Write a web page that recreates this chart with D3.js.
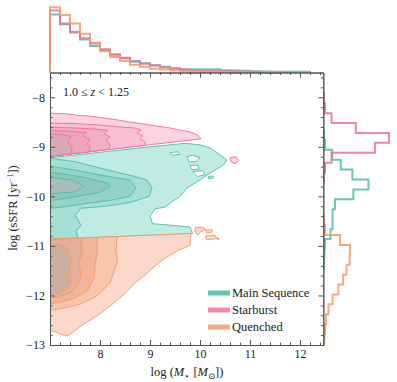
<!DOCTYPE html>
<html>
<head>
<meta charset="utf-8">
<script src="https://cdn.jsdelivr.net/npm/d3@7"></script>
<style>
  body { margin: 0; background: #fff; }
  svg text { font-family: "Liberation Serif", "DejaVu Serif", serif; fill: #222; }
  .axis path, .axis line { stroke: #555; }
</style>
</head>
<body>
<div id="chart_area"></div>
<script>
// ---- data ----
var classNames = ["Main Sequence", "Starburst", "Quenched"];
var lineColors = ["#4fbcab", "#f06d9c", "#f39a66"];
var legendColors = ["#63c6b8", "#f58ab0", "#f6ac83"];

// marginal histogram of log M* (bins of 0.2 dex from 7.0)
var massBinStart = 7.0, massBinWidth = 0.2;
var msMassHist = [0.90,0.75,0.62,0.51,0.41,0.35,0.28,0.22,0.165,0.14,0.114,0.088,0.067,0.052,0.052,0.052,0.05,0.036,0.031,0.026,0.021,0.016,0.01,0.01,0.01,0.01];
var sbMassHist = [0.96,0.76,0.63,0.53,0.45,0.36,0.28,0.23,0.18,0.14,0.11,0.078,0.057,0.041,0.031,0.026,0.026,0.021,0.016,0.016,0.01];
var qMassHist  = [1.01,0.89,0.76,0.60,0.46,0.33,0.24,0.18,0.12,0.09,0.06,0.047,0.031,0.02,0.012,0.01,0.008,0.006,0.005,0.004,0.003,0.002,0.001];

// marginal histogram of log sSFR (bins of 0.2 dex going down from the first edge)
var ssfrBinWidth = 0.2;
var msSsfrStart = -8.66;
var msSsfrHist = [0.02,0.05,0.26,0.51,0.85,1.32,0.88,0.34,0.27,0.27,0.21,0.05,0.03,0.02];
var sbSsfrStart = -7.92;
var sbSsfrHist = [0.02,0.05,0.24,0.95,1.92,1.51,0.24,0.05,0.02];
var qSsfrStart = -10.38;
var qSsfrHist  = [0.02,0.05,0.49,0.78,0.77,0.68,0.58,0.44,0.27,0.15,0.08,0.05,0.03];

// density contour levels [log M*, log sSFR], outermost first
var msLevels = [
  [[7.0,-9.22],[8.0,-9.11],[9.0,-9.0],[9.7,-8.93],[10.0,-8.96],[10.2,-9.02],[10.36,-9.13],[10.54,-9.27],[10.48,-9.35],[10.4,-9.41],[10.2,-9.53],[10.0,-9.67],[9.74,-9.83],[9.6,-10.0],[9.45,-10.1],[9.3,-10.22],[9.1,-10.25],[9.0,-10.4],[9.05,-10.55],[9.4,-10.58],[9.8,-10.62],[9.85,-10.75],[7.0,-10.87]],
  [[7.0,-9.23],[7.5,-9.3],[8.0,-9.43],[8.66,-9.59],[8.94,-9.67],[9.04,-9.83],[8.98,-10.0],[8.62,-10.12],[8.1,-10.2],[7.62,-10.24],[7.5,-10.38],[7.62,-10.58],[7.52,-10.7],[7.56,-10.84],[7.0,-10.86]],
  [[7.0,-9.39],[7.5,-9.47],[8.0,-9.57],[8.6,-9.67],[8.72,-9.83],[8.6,-10.0],[8.2,-10.08],[7.76,-10.14],[7.22,-10.22],[7.0,-10.24]],
  [[7.0,-9.51],[7.66,-9.61],[8.14,-9.73],[8.2,-9.81],[8.0,-9.92],[7.34,-10.04],[7.0,-10.08]],
  [[7.0,-9.61],[7.44,-9.67],[7.68,-9.79],[7.5,-9.91],[7.0,-9.95]]
];
var msHoles = [
  [[9.74,-9.2],[9.85,-9.17],[10.0,-9.22],[9.92,-9.3],[9.78,-9.3]],
  [[9.8,-9.38],[9.95,-9.37],[9.98,-9.45],[9.84,-9.46]],
  [[9.86,-9.5],[10.05,-9.48],[10.1,-9.56],[9.95,-9.6]],
  [[9.4,-9.12],[9.55,-9.1],[9.6,-9.15],[9.45,-9.17]]
];
var msIslands = [
  [[10.16,-9.6],[10.26,-9.59],[10.27,-9.63],[10.17,-9.64]]
];

var sbLevels = [
  [[7.0,-8.32],[7.3,-8.33],[7.6,-8.37],[7.8,-8.38],[8.0,-8.41],[8.3,-8.45],[8.6,-8.5],[9.0,-8.56],[9.4,-8.62],[9.6,-8.66],[9.8,-8.70],[9.95,-8.76],[10.02,-8.84],[7.0,-9.19]],
  [[7.0,-8.52],[7.5,-8.53],[8.0,-8.56],[8.4,-8.6],[8.7,-8.62],[8.82,-8.66],[8.74,-8.72],[8.86,-8.78],[8.8,-8.84],[8.9,-8.9],[8.9,-8.97],[7.0,-9.19]],
  [[7.0,-8.6],[7.5,-8.62],[7.9,-8.64],[8.15,-8.67],[8.08,-8.74],[8.2,-8.8],[8.12,-8.88],[8.2,-8.95],[8.18,-9.05],[7.0,-9.19]],
  [[7.0,-8.67],[7.4,-8.69],[7.72,-8.71],[7.66,-8.78],[7.8,-8.85],[7.74,-8.94],[7.8,-9.0],[7.78,-9.10],[7.0,-9.19]],
  [[7.0,-8.74],[7.25,-8.75],[7.42,-8.8],[7.36,-8.9],[7.44,-9.0],[7.42,-9.14],[7.0,-9.19]]
];
var sbIslands = [
  [[10.6,-9.22],[10.72,-9.2],[10.77,-9.28],[10.7,-9.34],[10.62,-9.3]]
];

var qLevels = [
  [[7.0,-10.87],[9.82,-10.75],[9.8,-10.99],[9.56,-11.09],[9.3,-11.25],[9.16,-11.35],[8.9,-11.59],[8.7,-11.75],[8.5,-11.96],[8.22,-12.2],[7.96,-12.4],[7.7,-12.56],[7.5,-12.71],[7.36,-12.81],[7.22,-12.79],[7.1,-12.73],[7.0,-12.71]],
  [[7.0,-10.87],[8.34,-10.81],[8.32,-11.1],[8.35,-11.3],[8.3,-11.45],[8.2,-11.75],[7.95,-12.0],[7.6,-12.18],[7.3,-12.25],[7.0,-12.3]],
  [[7.0,-10.87],[7.94,-10.83],[7.95,-11.1],[7.9,-11.4],[7.88,-11.65],[7.75,-11.9],[7.5,-12.05],[7.25,-12.12],[7.0,-12.17]],
  [[7.0,-10.87],[7.62,-10.84],[7.64,-11.1],[7.58,-11.35],[7.62,-11.6],[7.55,-11.8],[7.4,-11.95],[7.2,-12.02],[7.0,-12.05]],
  [[7.0,-10.97],[7.2,-10.98],[7.35,-11.05],[7.42,-11.3],[7.36,-11.55],[7.42,-11.75],[7.3,-11.9],[7.15,-11.95],[7.0,-11.98]]
];
var qIslands = [
  [[9.9,-10.63],[10.05,-10.62],[10.12,-10.67],[10.02,-10.71],[9.96,-10.78],[9.9,-10.72]],
  [[10.12,-10.68],[10.24,-10.67],[10.25,-10.72],[10.13,-10.74]],
  [[10.1,-10.8],[10.3,-10.79],[10.34,-10.85],[10.14,-10.88]],
  [[10.35,-10.84],[10.38,-10.84],[10.38,-10.87],[10.35,-10.87]]
];

// level fills (outer -> inner)
var msFills = ["#bfebe2", "#a5dfd4", "#93d3c6", "#8ec6ba", "#a7bdb8"];
var sbFills = ["#fbd4e0", "#f8c0d2", "#f4afc5", "#eca5bc", "#d8a9b6"];
var qFills  = ["#fbd8ca", "#f8c5ad", "#f2b599", "#e5b09b", "#cdaea2"];

var xTicks = [8, 9, 10, 11, 12];
var yTicks = [-8, -9, -10, -11, -12, -13];
var zLabel = "1.0 \u2264 z < 1.25";

// ---- layout ----
var W = 397, H = 382;
var svg = d3.select("#chart_area").append("svg").attr("width", W).attr("height", H);

var m = {left: 50, right: 323.3, top: 72.5, bottom: 345};
var xScale = d3.scaleLinear().domain([7.0, 12.466]).range([m.left, m.right]);
var yScale = d3.scaleLinear().domain([-7.5, -13]).range([m.top, m.bottom]);
var hTop = d3.scaleLinear().domain([0, 1.09]).range([m.top, 2.2]);
var hRight = d3.scaleLinear().domain([0, 2.15]).range([m.right, m.right + 2.15 * 34.2]);

svg.append("clipPath").attr("id", "clip")
  .append("rect").attr("x", m.left).attr("y", m.top).attr("width", m.right - m.left).attr("height", m.bottom - m.top);

var canvas = svg.append("g").attr("clip-path", "url(#clip)");
var line = d3.line().x(function(d) { return xScale(d[0]); }).y(function(d) { return yScale(d[1]); }).curve(d3.curveLinearClosed);

function drawLevels(levels, fills, stroke) {
  levels.forEach(function(poly, i) {
    canvas.append("path").attr("d", line(poly))
      .attr("fill", fills[i]).attr("stroke", stroke).attr("stroke-width", 0.9).attr("stroke-linejoin", "round");
  });
}
function drawIslands(polys, fill, stroke) {
  polys.forEach(function(poly) {
    canvas.append("path").attr("d", line(poly))
      .attr("fill", fill).attr("stroke", stroke).attr("stroke-width", 0.9);
  });
}

drawLevels(msLevels, msFills, lineColors[0]);
drawIslands(msHoles, "#ffffff", lineColors[0]);
drawIslands(msIslands, msFills[0], lineColors[0]);
drawLevels(sbLevels, sbFills, lineColors[1]);
drawIslands(sbIslands, sbFills[0], lineColors[1]);
drawLevels(qLevels, qFills, lineColors[2]);
drawIslands(qIslands, qFills[0], lineColors[2]);

// ---- marginal histograms ----
function massStep(vals) {
  var pts = [[massBinStart, 0]];
  vals.forEach(function(v, i) {
    pts.push([massBinStart + i * massBinWidth, v]);
    pts.push([massBinStart + (i + 1) * massBinWidth, v]);
  });
  pts.push([massBinStart + vals.length * massBinWidth, 0]);
  return d3.line().x(function(d) { return xScale(d[0]); }).y(function(d) { return hTop(d[1]); })(pts);
}
function ssfrStep(start, vals) {
  var pts = [[0, start]];
  vals.forEach(function(v, i) {
    pts.push([v, start - i * ssfrBinWidth]);
    pts.push([v, start - (i + 1) * ssfrBinWidth]);
  });
  pts.push([0, start - vals.length * ssfrBinWidth]);
  return d3.line().x(function(d) { return hRight(d[0]); }).y(function(d) { return yScale(d[1]); })(pts);
}

svg.append("clipPath").attr("id", "clipRight")
  .append("rect").attr("x", m.right - 2).attr("y", m.top).attr("width", W - m.right + 2).attr("height", m.bottom - m.top);

var massHists = [msMassHist, sbMassHist, qMassHist];
var ssfrHists = [[msSsfrStart, msSsfrHist], [sbSsfrStart, sbSsfrHist], [qSsfrStart, qSsfrHist]];
var hists = svg.append("g");
massHists.forEach(function(h, i) {
  hists.append("path").attr("d", massStep(h)).attr("fill", "none")
    .attr("stroke", lineColors[i]).attr("stroke-width", 2).attr("stroke-opacity", 0.85);
});
ssfrHists.forEach(function(h, i) {
  hists.append("path").attr("d", ssfrStep(h[0], h[1])).attr("fill", "none")
    .attr("stroke", lineColors[i]).attr("stroke-width", 2).attr("stroke-opacity", 0.85)
    .attr("clip-path", "url(#clipRight)");
});

// ---- axes ----
var xMinor = d3.range(7.0, 12.47, 0.2).filter(function(v) { return Math.abs(v - Math.round(v)) > 0.01; });
var yMinor = d3.range(-7.6, -13.01, -0.2).filter(function(v) { return Math.abs(v - Math.round(v)) > 0.01; });
var fmt = d3.format("d");

function addAxis(axis, tx, ty, labels) {
  var g = svg.append("g").attr("class", "axis").attr("transform", "translate(" + tx + "," + ty + ")").call(axis);
  if (!labels) g.selectAll("text").remove();
  g.selectAll("text").style("font-size", "12px").style("font-family", "Liberation Serif, serif").attr("fill", "#222");
  g.select(".domain").attr("stroke", "#555").attr("stroke-width", 1);
  return g;
}

addAxis(d3.axisBottom(xScale).tickValues(xMinor).tickSizeInner(-2.5).tickSizeOuter(0), 0, m.bottom, false);
addAxis(d3.axisBottom(xScale).tickValues(xTicks).tickFormat(fmt).tickSizeInner(-5).tickSizeOuter(0).tickPadding(4), 0, m.bottom, true);
addAxis(d3.axisTop(xScale).tickValues(xMinor).tickSizeInner(-2.5).tickSizeOuter(0), 0, m.top, false);
addAxis(d3.axisTop(xScale).tickValues(xTicks).tickSizeInner(-5).tickSizeOuter(0), 0, m.top, false);
addAxis(d3.axisLeft(yScale).tickValues(yMinor).tickSizeInner(-2.5).tickSizeOuter(0), m.left, 0, false);
addAxis(d3.axisLeft(yScale).tickValues(yTicks).tickFormat(fmt).tickSizeInner(-5).tickSizeOuter(0).tickPadding(5), m.left, 0, true);
addAxis(d3.axisRight(yScale).tickValues(yMinor).tickSizeInner(-2.5).tickSizeOuter(0), m.right, 0, false);
addAxis(d3.axisRight(yScale).tickValues(yTicks).tickSizeInner(-5).tickSizeOuter(0), m.right, 0, false);

// axis labels
var xl = svg.append("text").attr("x", 187).attr("y", 376).attr("text-anchor", "middle").style("font-size", "12.5px");
xl.append("tspan").text("log (");
xl.append("tspan").style("font-style", "italic").text("M");
xl.append("tspan").attr("dy", 2.5).style("font-size", "8.5px").text("\u22C6");
xl.append("tspan").attr("dy", -2.5).text(" [");
xl.append("tspan").style("font-style", "italic").text("M");
xl.append("tspan").attr("dy", 2.5).style("font-size", "8.5px").text("\u2299");
xl.append("tspan").attr("dy", -2.5).text("])");

var yl = svg.append("text").attr("transform", "translate(17,208) rotate(-90)").attr("text-anchor", "middle").style("font-size", "12.5px");
yl.append("tspan").text("log (sSFR [yr");
yl.append("tspan").attr("dy", -4).style("font-size", "8.5px").text("\u22121");
yl.append("tspan").attr("dy", 4).text("])");

// redshift annotation
var zt = svg.append("text").attr("x", 63).attr("y", 96).style("font-size", "12px");
var parts = zLabel.split("z");
zt.append("tspan").text(parts[0]);
zt.append("tspan").style("font-style", "italic").text("z");
zt.append("tspan").text(parts[1]);

// legend
var legend = svg.append("g").attr("transform", "translate(208,293)");
classNames.forEach(function(name, i) {
  legend.append("rect").attr("x", 0).attr("y", i * 17 - 2.5).attr("width", 22).attr("height", 5).attr("fill", legendColors[i]);
  legend.append("text").attr("x", 24).attr("y", i * 17 + 4).style("font-size", "12.5px").text(name);
});
</script>
</body>
</html>
